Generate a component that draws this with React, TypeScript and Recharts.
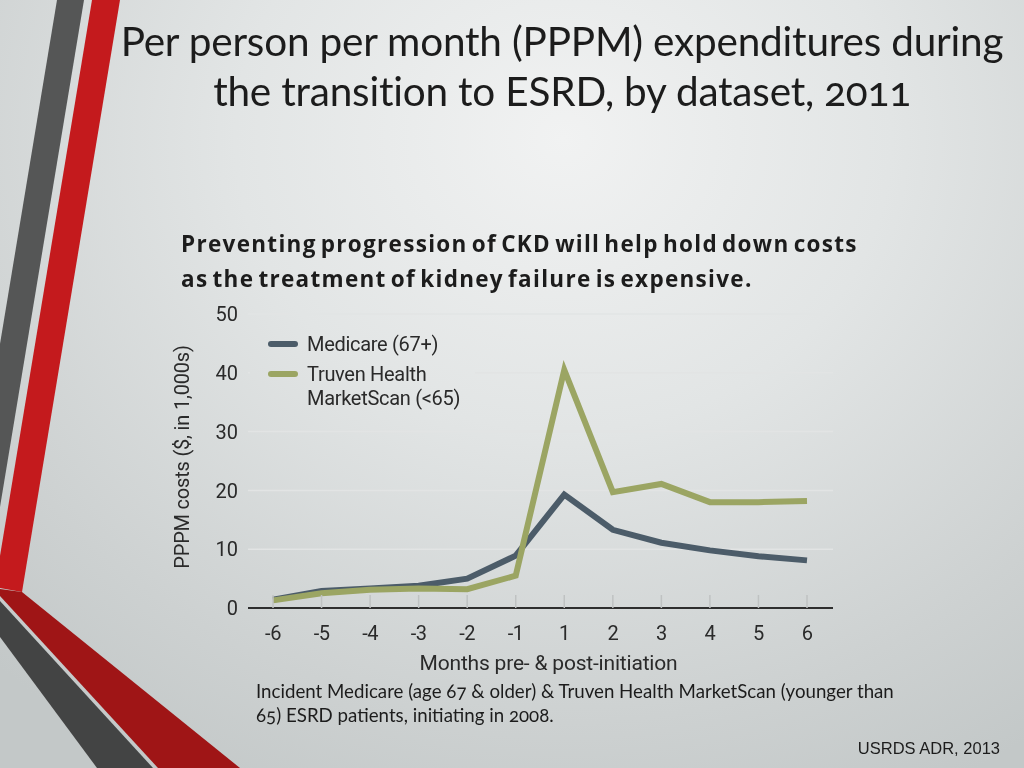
import React from 'react';
import { LineChart, Line, XAxis, YAxis, CartesianGrid, Legend, Label } from 'recharts';

const months = ['-6', '-5', '-4', '-3', '-2', '-1', '1', '2', '3', '4', '5', '6'];
const medicare = [1.4, 2.9, 3.3, 3.8, 5.0, 8.9, 19.3, 13.3, 11.1, 9.8, 8.8, 8.1];
const truven = [1.3, 2.5, 3.1, 3.3, 3.2, 5.5, 40.5, 19.7, 21.1, 18.0, 18.0, 18.2];
const yTicks = [0, 10, 20, 30, 40, 50];

const seriesNames = ['Medicare (67+)', 'Truven Health MarketScan (<65)'];
const seriesColors = ['#4c5c69', '#9ba563'];

const data = months.map((m, i) => ({ month: m, medicare: medicare[i], truven: truven[i] }));

const BG = 'radial-gradient(ellipse 80% 95% at 55% 18%, #f1f2f2 0%, #e2e5e5 40%, #cdd1d1 80%, #c3c8c8 100%)';
const CHART_FONT = 'Roboto, "Open Sans", sans-serif';
const TEXT = '#2a2a2a';

const XTick = (props: any) => {
  const { x, y, payload } = props;
  return (
    <g>
      <line x1={x} x2={x} y1={y} y2={y - 13} stroke="#bfc2c2" strokeWidth={1.5} />
      <text x={x} y={y + 32} textAnchor="middle" fontFamily={CHART_FONT} fontSize={20} fill={TEXT} letterSpacing={-0.5}>
        {payload.value}
      </text>
    </g>
  );
};

const renderLegend = () => (
  <div
    style={{
      position: 'relative',
      width: 225,
      height: 92,
      background: BG,
      backgroundAttachment: 'fixed',
      fontFamily: CHART_FONT,
      fontSize: 20,
      color: TEXT,
      letterSpacing: -0.3,
    }}
  >
    <div style={{ position: 'absolute', left: 18, top: 19, width: 30, height: 6, borderRadius: 3, background: seriesColors[0] }} />
    <div style={{ position: 'absolute', left: 57, top: 10, lineHeight: '24px', whiteSpace: 'nowrap' }}>{seriesNames[0]}</div>
    <div style={{ position: 'absolute', left: 18, top: 49, width: 30, height: 6, borderRadius: 3, background: seriesColors[1] }} />
    <div style={{ position: 'absolute', left: 57, top: 40, lineHeight: '24px', whiteSpace: 'nowrap' }}>
      Truven Health
      <br />
      MarketScan (&lt;65)
    </div>
  </div>
);

const YLabel = (props: any) => {
  const { viewBox } = props;
  const cx = 182;
  const cy = viewBox.y + viewBox.height / 2 - 4;
  return (
    <text
      x={cx}
      y={cy}
      transform={`rotate(-90, ${cx}, ${cy})`}
      textAnchor="middle"
      dominantBaseline="central"
      fontFamily={CHART_FONT}
      fontSize={20}
      fill={TEXT}
      letterSpacing={-0.2}
    >
      PPPM costs ($, in 1,000s)
    </text>
  );
};

const XLabel = (props: any) => {
  const { viewBox } = props;
  const cx = viewBox.x + viewBox.width / 2 + 8;
  return (
    <text x={cx} y={670} textAnchor="middle" fontFamily={CHART_FONT} fontSize={21} fill={TEXT} letterSpacing={-0.2}>
      Months pre- &amp; post-initiation
    </text>
  );
};

export default function App() {
  return (
    <div style={{ position: 'fixed', left: 0, top: 0, width: 1024, height: 768, overflow: 'hidden', background: BG }}>
      <svg width={1024} height={768} style={{ position: 'absolute', left: 0, top: 0 }}>
        <polygon points="57,0 84,0 0,507 0,344" fill="#555656" />
        <polygon points="92,0 120,0 22,592 0,588 0,556" fill="#c41a1d" />
        <polygon points="0,589 22,592 240,768 158,768 0,596" fill="#9f1516" />
        <polygon points="0,601 153,768 97,768 0,637" fill="#434444" />
      </svg>

      <div
        style={{
          position: 'absolute',
          left: 62,
          width: 1000,
          top: 16,
          textAlign: 'center',
          fontFamily: 'Lato, "Open Sans", sans-serif',
          fontSize: 40.5,
          lineHeight: '50px',
          color: '#1c1c1c',
          fontVariantNumeric: 'oldstyle-nums',
          letterSpacing: -0.2,
        }}
      >
        Per person per month (PPPM) expenditures during
        <br />
        the transition to ESRD, by dataset, 2011
      </div>

      <div
        style={{
          position: 'absolute',
          left: 181,
          top: 226,
          fontFamily: '"Open Sans", Lato, sans-serif',
          fontWeight: 700,
          fontSize: 22.5,
          lineHeight: '35px',
          color: '#1c1c1c',
          whiteSpace: 'nowrap',
          letterSpacing: 1.3,
          wordSpacing: -3,
        }}
      >
        Preventing progression of CKD will help hold down costs
        <br />
        as the treatment of kidney failure is expensive.
      </div>

      <div style={{ position: 'absolute', left: 0, top: 0 }}>
        <LineChart
          width={1024}
          height={768}
          data={data}
          margin={{ top: 314, right: 191, bottom: 100, left: 188 }}
        >
          <CartesianGrid horizontal vertical={false} stroke="#e2e4e4" strokeWidth={1.5} />
          <XAxis
            dataKey="month"
            height={60}
            padding={{ left: 25, right: 26 }}
            axisLine={{ stroke: '#2e2e2e', strokeWidth: 2 }}
            tickLine={false}
            tickSize={0}
            tickMargin={0}
            tick={<XTick />}
            interval={0}
          >
            <Label content={<XLabel />} />
          </XAxis>
          <YAxis
            width={60}
            domain={[0, 50]}
            ticks={yTicks}
            axisLine={false}
            tickLine={false}
            tickSize={4}
            tickMargin={6}
            tick={{ fontFamily: CHART_FONT, fontSize: 20, fill: TEXT }}
            interval={0}
          >
            <Label content={<YLabel />} />
          </YAxis>
          <Legend
            layout="vertical"
            align="center"
            verticalAlign="middle"
            content={renderLegend}
            wrapperStyle={{ left: 250, top: 322, width: 225, height: 92 }}
          />
          <Line
            type="linear"
            dataKey="medicare"
            name={seriesNames[0]}
            stroke={seriesColors[0]}
            strokeWidth={6}
            dot={false}
            isAnimationActive={false}
          />
          <Line
            type="linear"
            dataKey="truven"
            name={seriesNames[1]}
            stroke={seriesColors[1]}
            strokeWidth={6}
            dot={false}
            isAnimationActive={false}
          />
        </LineChart>
      </div>

      <div
        style={{
          position: 'absolute',
          left: 256,
          top: 679,
          fontFamily: 'Lato, "Open Sans", sans-serif',
          fontSize: 18.7,
          lineHeight: '24px',
          color: '#1c1c1c',
          fontVariantNumeric: 'oldstyle-nums',
          whiteSpace: 'nowrap',
        }}
      >
        Incident Medicare (age 67 &amp; older) &amp; Truven Health MarketScan (younger than
        <br />
        65) ESRD patients, initiating in 2008.
      </div>

      <div
        style={{
          position: 'absolute',
          right: 24,
          top: 738,
          fontFamily: '"Liberation Sans", Arial, sans-serif',
          fontSize: 16.5,
          lineHeight: '20px',
          color: '#1c1c1c',
          whiteSpace: 'nowrap',
        }}
      >
        USRDS ADR, 2013
      </div>
    </div>
  );
}
